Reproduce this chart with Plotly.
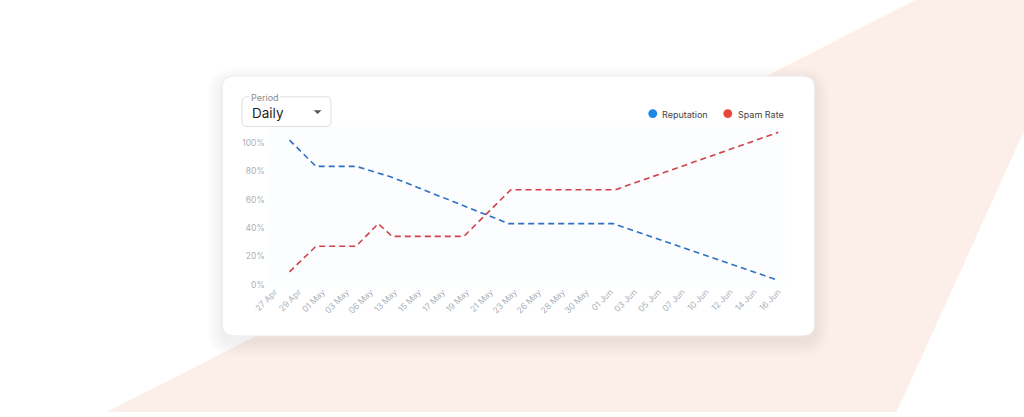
import plotly.graph_objects as go

# ---------------- data ----------------
x_labels = ["27 Apr", "29 Apr", "01 May", "03 May", "06 May", "13 May", "15 May",
            "17 May", "19 May", "21 May", "23 May", "26 May", "28 May", "30 May",
            "01 Jun", "03 Jun", "05 Jun", "07 Jun", "10 Jun", "12 Jun", "14 Jun", "16 Jun"]
# positions along the category axis (label index units)
reputation_x = [0.95, 2.05, 3.72, 5.19, 10.09, 14.45, 21.24]
reputation_y = [102, 83.5, 83.5, 76, 43, 43, 3.5]
spam_x = [0.95, 2.05, 3.72, 4.65, 5.23, 8.22, 10.18, 14.54, 21.33]
spam_y = [9, 27, 27, 43, 34, 34, 67, 67, 107.5]
y_ticks = [0, 20, 40, 60, 80, 100]
y_tick_text = ["0%", "20%", "40%", "60%", "80%", "100%"]
series_names = ["Reputation", "Spam Rate"]
period_label = "Period"
period_value = "Daily"

# ---------------- geometry helpers ----------------
W, H = 1024, 417
FONT = "Inter"


def px(x):
    return x / W


def py(y):
    return 1 - y / H


def rrect(x0, y0, x1, y1, r):
    pts = [
        f"M {px(x0 + r)} {py(y0)}",
        f"L {px(x1 - r)} {py(y0)}",
        f"Q {px(x1)} {py(y0)} {px(x1)} {py(y0 + r)}",
        f"L {px(x1)} {py(y1 - r)}",
        f"Q {px(x1)} {py(y1)} {px(x1 - r)} {py(y1)}",
        f"L {px(x0 + r)} {py(y1)}",
        f"Q {px(x0)} {py(y1)} {px(x0)} {py(y1 - r)}",
        f"L {px(x0)} {py(y0 + r)}",
        f"Q {px(x0)} {py(y0)} {px(x0 + r)} {py(y0)}",
        "Z",
    ]
    return " ".join(pts)


def poly(points):
    s = " ".join(("M" if i == 0 else "L") + f" {px(a)} {py(b)}" for i, (a, b) in enumerate(points))
    return s + " Z"


shapes = []
# background pink band
shapes.append(dict(type="path", xref="paper", yref="paper", layer="below",
                   path=poly([(914, 0), (1024, 0), (1024, 133), (895, 417), (95, 417)]),
                   fillcolor="#fcefea", line=dict(width=0)))
# card shadow
for k in range(1, 16):
    shapes.append(dict(type="path", xref="paper", yref="paper", layer="below",
                       path=rrect(212 - k, 77 - k + 6, 812 + k, 340 + k + 6, 12 + k),
                       fillcolor="rgba(170,120,110,0.008)", line=dict(width=0)))
# card
shapes.append(dict(type="path", xref="paper", yref="paper", layer="below",
                   path=rrect(212, 77, 812, 340, 12),
                   fillcolor="#ffffff", line=dict(color="#ebebeb", width=1)))
# plot area tint
shapes.append(dict(type="rect", xref="paper", yref="paper", layer="below",
                   x0=px(258), x1=px(782), y0=py(290), y1=py(128),
                   fillcolor="#fbfdfe", line=dict(width=0)))
# dropdown box
shapes.append(dict(type="path", xref="paper", yref="paper", layer="below",
                   path=rrect(232, 98, 322, 128, 5),
                   fillcolor="#ffffff", line=dict(color="#dedede", width=1)))
# dropdown arrow
shapes.append(dict(type="path", xref="paper", yref="paper", layer="above",
                   path=poly([(304.5, 111.5), (312.5, 111.5), (308.5, 115.5)]),
                   fillcolor="#555555", line=dict(width=0)))
# legend dots
legend_colors = ["#1f88e5", "#e8453c"]
for cx, col in zip([648, 724], legend_colors):
    shapes.append(dict(type="circle", xref="paper", yref="paper", layer="above",
                       x0=px(cx - 4.5), x1=px(cx + 4.5), y0=py(115 + 4.5), y1=py(115 - 4.5),
                       fillcolor=col, line=dict(width=0)))

annotations = [
    dict(text=period_label, x=px(239), y=py(99), xref="paper", yref="paper",
         xanchor="left", yanchor="middle", showarrow=False, bgcolor="#ffffff",
         font=dict(family=FONT, size=9, color="#8c8c8c"), borderpad=1),
    dict(text=period_value, x=px(240), y=py(114.5), xref="paper", yref="paper",
         xanchor="left", yanchor="middle", showarrow=False,
         font=dict(family=FONT, size=13.5, color="#1e1e1e")),
    dict(text=series_names[0], x=px(655), y=py(115.5), xref="paper", yref="paper",
         xanchor="left", yanchor="middle", showarrow=False,
         font=dict(family=FONT, size=9, color="#444444")),
    dict(text=series_names[1], x=px(732), y=py(115.5), xref="paper", yref="paper",
         xanchor="left", yanchor="middle", showarrow=False,
         font=dict(family=FONT, size=9, color="#444444")),
]

fig = go.Figure()
fig.add_trace(go.Scatter(x=reputation_x, y=reputation_y, mode="lines", name=series_names[0],
                         line=dict(color="#2c6fc4", width=1.6, dash="6px,4px")))
fig.add_trace(go.Scatter(x=spam_x, y=spam_y, mode="lines", name=series_names[1],
                         line=dict(color="#d2404a", width=1.6, dash="6px,4px")))

T0, STEP = 257.0, 24.29
XL, XR = 256.0, 780.0
fig.update_layout(
    width=W, height=H, autosize=False,
    margin=dict(l=0, r=0, t=0, b=0),
    paper_bgcolor="#ffffff", plot_bgcolor="rgba(0,0,0,0)",
    showlegend=False,
    shapes=shapes, annotations=annotations,
    xaxis=dict(domain=[px(XL), px(XR)],
               range=[(XL - T0) / STEP, (XR - T0) / STEP],
               tickmode="array", tickvals=list(range(len(x_labels))), ticktext=x_labels,
               tickangle=-45, ticklabelshift=8,
               showgrid=False, zeroline=False, showline=False, ticks="",
               tickfont=dict(family=FONT, size=8.5, color="#acb0b6"),
               fixedrange=True),
    yaxis=dict(domain=[py(288), py(288 - 110 * 1.433)], range=[0, 110],
               tickmode="array", tickvals=y_ticks, ticktext=y_tick_text,
               showgrid=False, zeroline=False, showline=False, ticks="",
               tickfont=dict(family=FONT, size=8.5, color="#acb0b6"),
               fixedrange=True),
)

fig.write_html("out.html", config=dict(displayModeBar=False),
               post_script="document.body.style.margin='0';document.body.style.overflow='hidden';")
